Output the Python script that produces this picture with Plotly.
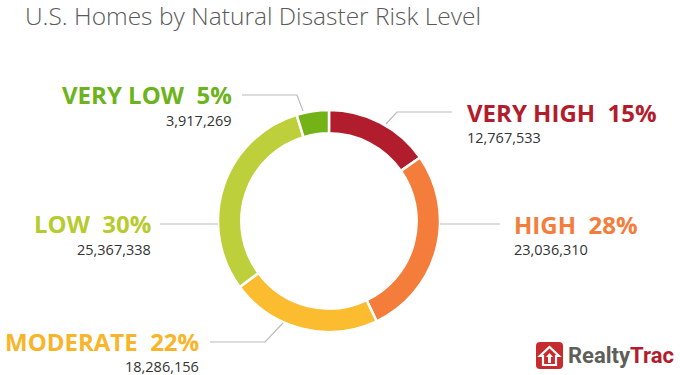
import plotly.graph_objects as go

# ---- data ----
categories = ["VERY HIGH", "HIGH", "MODERATE", "LOW", "VERY LOW"]
homes = [12767533, 23036310, 18286156, 25367338, 3917269]
percent_labels = ["15%", "28%", "22%", "30%", "5%"]
slice_colors = ["#B21D2D", "#F57D3B", "#FBBD2F", "#BDD03C", "#74B317"]
label_colors = ["#B21D2D", "#F57D3B", "#F9B52A", "#B6CC2E", "#6DB31C"]

W, H = 680, 375

def px(x):
    return x / W

def py(y):
    return 1 - y / H

fig = go.Figure()

# donut centred at (329, 221) px, outer radius 111 px
cx, cy, r = 329, 221, 111
fig.add_trace(go.Pie(
    labels=categories,
    values=homes,
    sort=False,
    direction="clockwise",
    rotation=0,
    hole=0.79,
    marker=dict(colors=slice_colors, line=dict(color="white", width=2.5)),
    textinfo="none",
    hoverinfo="label+value+percent",
    showlegend=False,
    domain=dict(x=[px(cx - r), px(cx + r)], y=[1 - (cy + r) / H, 1 - (cy - r) / H]),
))

# label placement: (anchor x px, label y px, number y px, xanchor)
placements = {
    "VERY HIGH": (466, 112.5, 137.5, "left"),
    "HIGH": (513, 224.5, 249.5, "left"),
    "MODERATE": (200, 341.5, 366, "right"),
    "LOW": (152, 223.5, 249, "right"),
    "VERY LOW": (233, 94.5, 120, "right"),
}

label_font = "Open Sans"
for cat, val, pct, col in zip(categories, homes, percent_labels, label_colors):
    x, yl, yn, xa = placements[cat]
    fig.add_annotation(
        x=px(x), y=py(yl), xref="paper", yref="paper",
        text=f"<b>{cat}\u00a0\u00a0{pct}</b>", showarrow=False,
        xanchor=xa, yanchor="middle", borderpad=0,
        font=dict(family=label_font, size=24, color=col),
    )
    fig.add_annotation(
        x=px(x), y=py(yn), xref="paper", yref="paper",
        text=f"{val:,}", showarrow=False,
        xanchor=xa, yanchor="middle", borderpad=0,
        font=dict(family=label_font, size=14.5, color="#333333"),
    )

# leader lines (polylines in pixel space)
leaders = [
    [(452, 112), (397, 112), (386, 124)],   # very high
    [(500, 224), (440, 224)],               # high
    [(210, 342), (265, 342), (283, 323)],   # moderate
    [(160, 224), (218, 224)],               # low
    [(242, 95), (297, 95), (303, 111)],     # very low
]
for pts in leaders:
    path = "M " + " L ".join(f"{px(x):.5f},{py(y):.5f}" for x, y in pts)
    fig.add_shape(type="path", path=path, xref="paper", yref="paper",
                  line=dict(color="#BBBBBB", width=1.2))

# title
fig.add_annotation(
    x=px(23), y=py(15), xref="paper", yref="paper",
    text="U.S. Homes by Natural Disaster Risk Level", showarrow=False,
    xanchor="left", yanchor="middle",
    font=dict(family="Open Sans", size=24.5, color="#5A5A5A", weight=300),
)

# RealtyTrac logo
x0, y0, s = 536, 342, 27
rr = 4
logo_box = (f"M {px(x0+rr)},{py(y0)} L {px(x0+s-rr)},{py(y0)} Q {px(x0+s)},{py(y0)} {px(x0+s)},{py(y0+rr)} "
            f"L {px(x0+s)},{py(y0+s-rr)} Q {px(x0+s)},{py(y0+s)} {px(x0+s-rr)},{py(y0+s)} "
            f"L {px(x0+rr)},{py(y0+s)} Q {px(x0)},{py(y0+s)} {px(x0)},{py(y0+s-rr)} "
            f"L {px(x0)},{py(y0+rr)} Q {px(x0)},{py(y0)} {px(x0+rr)},{py(y0)} Z")
fig.add_shape(type="path", path=logo_box, xref="paper", yref="paper",
              fillcolor="#C62B2E", line=dict(width=0))
house = [(x0+13.5, y0+5), (x0+23, y0+14), (x0+20, y0+14), (x0+20, y0+23),
         (x0+7, y0+23), (x0+7, y0+14), (x0+4, y0+14)]
fig.add_shape(type="path",
              path="M " + " L ".join(f"{px(x)},{py(y)}" for x, y in house) + " Z",
              xref="paper", yref="paper", fillcolor="rgba(0,0,0,0)",
              line=dict(color="white", width=2.2))
arrow = [(x0+13.5, y0+11), (x0+17, y0+15), (x0+15, y0+15), (x0+15, y0+21),
         (x0+12, y0+21), (x0+12, y0+15), (x0+10, y0+15)]
fig.add_shape(type="path",
              path="M " + " L ".join(f"{px(x)},{py(y)}" for x, y in arrow) + " Z",
              xref="paper", yref="paper", fillcolor="white", line=dict(width=0))
fig.add_annotation(
    x=px(675), y=py(355), xref="paper", yref="paper",
    text="<b><span style='color:#5F5F5A'>Realty</span><span style='color:#B21D2D'>Trac</span></b>",
    showarrow=False, xanchor="right", yanchor="middle", borderpad=0,
    font=dict(family="Roboto", size=22),
)

fig.update_layout(
    width=W, height=H,
    margin=dict(l=0, r=0, t=0, b=0),
    paper_bgcolor="white", plot_bgcolor="white",
)

fig.write_html("out.html", config={"displayModeBar": False},
               post_script="document.body.style.margin='0';document.body.style.overflow='hidden';")
